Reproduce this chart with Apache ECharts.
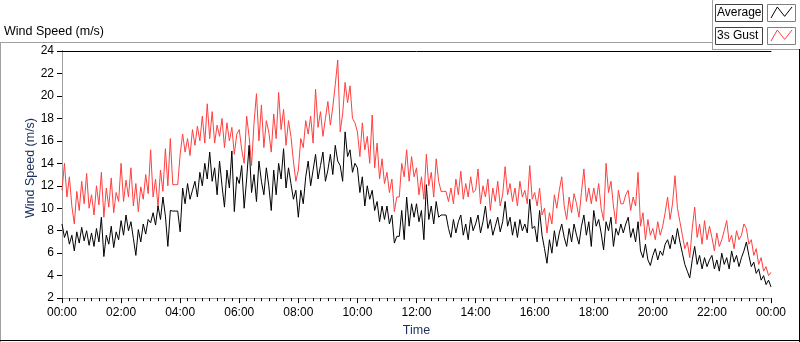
<!DOCTYPE html>
<html>
<head>
<meta charset="utf-8">
<script src="https://cdn.jsdelivr.net/npm/echarts@6/dist/echarts.min.js"></script>
<style>
html,body{margin:0;padding:0;background:#fff;}
#chart{width:800px;height:342px;}
</style>
</head>
<body>
<div id="chart"></div>
<script>
// sample step (minutes) between consecutive readings
const sampleStepMin = 5;
const tickLabels = ['00:00','02:00','04:00','06:00','08:00','10:00','12:00','14:00','16:00','18:00','20:00','22:00','00:00'];
const seriesNames = ['Average', '3s Gust'];

// Average wind speed (m/s), one row per hour, 5-minute readings
const avgSpeed = [
  8.6, 7.4, 8.0, 6.8, 7.6, 6.2, 7.9, 6.9, 8.3, 7.1, 8.0, 6.7,
  7.8, 6.6, 8.2, 7.0, 9.2, 5.7, 7.6, 6.8, 8.4, 6.5, 7.9, 7.2,
  8.9, 7.6, 9.4, 8.0, 8.8, 7.3, 5.8, 8.1, 7.0, 8.6, 7.7, 9.0,
  8.7, 9.6, 8.5, 10.2, 9.0, 11.0, 9.3, 6.6, 9.8, 9.75, 9.75, 9.75,
  7.9, 11.8, 10.4, 12.2, 10.8, 11.6, 12.4, 11.0, 13.2, 12.0, 14.0, 12.6,
  15.0, 12.4, 13.6, 11.2, 14.2, 12.0, 10.1, 13.4, 11.8, 15.1, 9.7, 12.8,
  12.2, 13.8, 10.0, 12.6, 15.6, 11.4, 13.0, 10.6, 14.2, 12.4, 11.2, 13.6,
  12.0, 9.8, 13.4, 11.2, 14.0, 12.6, 15.3, 11.8, 13.6, 12.2, 10.8, 11.6,
  9.2, 11.6, 10.4, 12.8, 14.2, 12.0, 13.4, 14.8, 12.6, 13.8, 15.0, 12.4,
  13.4, 14.8, 13.0, 15.6, 14.2, 13.8, 12.4, 16.8, 14.6, 15.2, 13.2, 14.0,
  13.6, 11.4, 12.8, 10.2, 12.0, 10.8, 11.6, 9.8, 10.6, 8.8, 10.2, 9.0,
  10.2, 8.6, 9.4, 6.9, 7.5, 7.5, 9.8, 7.2, 11.0, 8.4, 10.4, 9.2,
  10.4, 8.8, 9.8, 7.2, 12.1, 9.0, 10.2, 8.6, 10.6, 9.2, 9.4, 9.4,
  9.4, 8.2, 7.4, 9.0, 7.8, 8.8, 9.4, 7.6, 8.6, 7.2, 9.2, 8.0,
  8.6, 9.4, 7.8, 8.8, 10.2, 8.2, 9.0, 7.6, 8.4, 9.2, 7.9, 8.8,
  10.6, 8.4, 9.2, 7.6, 8.8, 7.4, 9.0, 8.0, 8.6, 7.8, 10.8, 8.2,
  8.4, 7.0, 9.8, 7.6, 6.4, 5.1, 7.2, 6.0, 8.0, 6.6, 7.8, 8.6,
  7.4, 6.6, 8.2, 7.0, 8.6, 7.6, 6.8, 8.4, 9.4, 7.6, 8.8, 6.6,
  9.8, 8.4, 9.0, 7.8, 6.3, 8.8, 8.0, 9.2, 6.6, 8.2, 7.6, 8.6,
  7.8, 8.6, 9.2, 7.4, 8.2, 7.0, 8.8, 6.2, 5.6, 6.8, 5.4, 4.9,
  5.8, 6.4, 5.4, 6.2, 5.8, 6.8, 7.2, 6.4, 7.6, 6.8, 8.2, 7.0,
  6.0, 5.0, 4.4, 3.8, 5.4, 6.6, 5.0, 5.8, 4.6, 5.6, 4.8, 5.4,
  5.8, 4.6, 5.4, 4.4, 6.0, 5.0, 5.6, 4.6, 6.2, 5.2, 5.8, 4.8,
  5.6, 6.2, 7.0, 5.8, 4.8, 5.2, 4.2, 4.6, 3.6, 4.0, 3.2, 3.6, 3.0
];

// 3 s gust wind speed (m/s), one row per hour, 5-minute readings
const gustSpeed = [
  11.6, 14.0, 11.0, 12.8, 10.2, 8.6, 11.5, 9.8, 12.4, 10.4, 13.1, 10.0,
  11.2, 9.4, 12.0, 10.3, 13.2, 9.2, 11.8, 10.1, 12.7, 9.6, 11.4, 10.6,
  14.0, 10.6, 12.5, 11.0, 13.6, 10.2, 12.2, 9.7, 11.9, 10.8, 13.0, 11.3,
  15.2, 11.0, 12.6, 10.1, 13.4, 11.5, 15.3, 12.0, 16.2, 12.1, 12.1, 12.1,
  14.8, 16.6, 15.0, 16.2, 14.7, 17.0, 15.6, 17.3, 16.0, 18.2, 15.8, 19.3,
  16.2, 18.6, 15.8, 17.4, 16.4, 18.0, 15.4, 17.6, 16.0, 17.2, 14.8, 16.6,
  17.0, 15.2, 14.0, 18.2, 16.4, 13.8, 17.6, 20.2, 16.0, 19.2, 15.4, 17.8,
  16.8, 15.0, 18.4, 16.2, 20.3, 17.0, 18.8, 15.6, 17.8, 16.4, 14.2, 12.4,
  13.4, 16.2, 15.4, 17.8, 16.6, 18.2, 15.8, 20.6, 17.2, 18.6, 16.4, 18.0,
  19.5, 17.4, 19.0, 21.0, 23.2, 16.8, 18.4, 21.2, 19.4, 20.9, 18.0, 17.6,
  16.8, 14.6, 17.6, 15.2, 16.4, 14.0, 18.3, 13.6, 15.8, 12.6, 14.4, 12.2,
  13.2, 11.4, 12.6, 9.7, 11.0, 11.0, 14.0, 12.8, 15.2, 12.4, 14.6, 12.8,
  13.6, 11.2, 12.8, 10.8, 14.8, 12.0, 13.2, 11.0, 14.4, 12.4, 11.5, 11.5,
  11.5, 10.6, 11.8, 10.4, 12.6, 11.2, 13.3, 10.8, 12.2, 11.0, 12.8, 11.4,
  11.6, 13.5, 10.4, 12.0, 11.0, 12.6, 9.8, 11.8, 10.6, 12.4, 10.2, 11.2,
  13.7, 11.2, 12.2, 10.6, 11.8, 10.2, 12.4, 11.0, 11.6, 10.4, 13.8, 10.8,
  11.4, 10.2, 11.8, 9.4, 10.0, 7.8, 9.6, 8.6, 11.2, 10.0, 11.6, 12.8,
  10.2, 9.0, 11.0, 9.6, 11.3, 10.4, 9.2, 11.4, 13.5, 10.6, 11.8, 10.4,
  11.8, 10.6, 12.2, 10.0, 8.9, 14.0, 11.4, 12.4, 10.2, 8.6, 11.6, 10.4,
  10.4, 11.2, 11.6, 9.8, 11.0, 10.2, 13.2, 8.4, 9.6, 7.2, 9.0, 7.6,
  8.2, 7.2, 8.8, 7.6, 8.4, 9.6, 11.0, 9.0, 10.4, 12.9, 10.0, 8.8,
  7.6, 6.4, 7.0, 5.6, 8.2, 10.1, 7.4, 8.6, 6.8, 8.9, 7.2, 8.4,
  7.4, 6.2, 7.8, 6.6, 7.2, 8.0, 8.9, 7.0, 7.6, 6.4, 8.0, 7.2,
  7.6, 8.6, 8.2, 6.8, 7.2, 5.8, 6.4, 5.0, 5.6, 4.4, 4.8, 4.0, 4.3
];

const pairs = arr => arr.map((v, i) => [i * sampleStepMin, v]);

const FONT = 'Liberation Sans, Arial, sans-serif';
const chart = echarts.init(document.getElementById('chart'), null, {renderer: 'canvas'});

function zig(x0, y0, w, h) {
  return [[x0, y0 + h], [x0 + w * 0.3, y0], [x0 + w * 0.65, y0 + h * 0.85], [x0 + w, y0]];
}

chart.setOption({
  animation: false,
  backgroundColor: '#ffffff',
  grid: {left: 62, top: 51, width: 709, height: 252, containLabel: false},
  xAxis: [{
    type: 'value', min: 0, max: 1440, interval: 120,
    name: 'Time', nameLocation: 'middle', nameGap: 25,
    nameTextStyle: {fontFamily: FONT, fontSize: 12.5, color: '#1c2f5c'},
    axisLine: {show: true, lineStyle: {color: '#a0a0a0', width: 1}},
    axisTick: {show: true, length: 5, lineStyle: {color: '#000'}},
    minorTick: {show: true, splitNumber: 8, length: 3, lineStyle: {color: '#000'}},
    splitLine: {show: false},
    axisLabel: {fontFamily: FONT, fontSize: 12, color: '#000', margin: 9,
      formatter: v => tickLabels[Math.round(v / 120)]}
  }, {
    type: 'value', min: 0, max: 1440, position: 'top',
    axisLine: {show: true, lineStyle: {color: '#000'}},
    axisTick: {show: false}, axisLabel: {show: false}, splitLine: {show: false}
  }],
  yAxis: [{
    type: 'value', min: 2, max: 24, interval: 2,
    axisLine: {show: true, lineStyle: {color: '#000', width: 1}},
    axisTick: {show: true, length: 5, lineStyle: {color: '#000'}},
    splitLine: {show: false},
    axisLabel: {fontFamily: FONT, fontSize: 12, color: '#000', margin: 8}
  }, {
    type: 'value', min: 2, max: 24, position: 'right',
    axisLine: {show: true, lineStyle: {color: '#a0a0a0'}},
    axisTick: {show: false}, axisLabel: {show: false}, splitLine: {show: false}
  }],
  series: [{
    name: seriesNames[1], type: 'line', data: pairs(gustSpeed),
    showSymbol: false, symbol: 'none',
    lineStyle: {color: '#ff3f3f', width: 1}, itemStyle: {color: '#ff3f3f'}
  }, {
    name: seriesNames[0], type: 'line', data: pairs(avgSpeed),
    showSymbol: false, symbol: 'none',
    lineStyle: {color: '#000000', width: 1}, itemStyle: {color: '#000'}
  }],
  graphic: [
    // panel frame
    {type: 'line', shape: {x1: 0, y1: 42.5, x2: 712, y2: 42.5}, style: {stroke: '#a0a0a0', lineWidth: 1}},
    {type: 'line', shape: {x1: 712.5, y1: 0, x2: 712.5, y2: 49}, style: {stroke: '#a0a0a0', lineWidth: 1}},
    {type: 'line', shape: {x1: 712, y1: 49.5, x2: 800, y2: 49.5}, style: {stroke: '#a0a0a0', lineWidth: 1}},
    {type: 'line', shape: {x1: 0.5, y1: 42, x2: 0.5, y2: 342}, style: {stroke: '#a0a0a0', lineWidth: 1}},
    {type: 'line', shape: {x1: 0, y1: 340.5, x2: 800, y2: 340.5}, style: {stroke: '#000', lineWidth: 1}},
    {type: 'line', shape: {x1: 799.5, y1: 49, x2: 799.5, y2: 342}, style: {stroke: '#000', lineWidth: 1}},
    // chart title
    {type: 'text', left: 4, top: 25, style: {text: 'Wind Speed (m/s)', font: '12.5px ' + FONT, fill: '#000'}},
    // y axis name
    {type: 'text', x: 31, y: 168, rotation: Math.PI / 2,
      style: {text: 'Wind Speed (m/s)', font: '12.5px ' + FONT, fill: '#1c2f5c', textAlign: 'center', textVerticalAlign: 'middle'}},
    // legend
    {type: 'rect', shape: {x: 715.5, y: 4.5, width: 47, height: 17}, style: {fill: '#fdfdfd', stroke: '#404040', lineWidth: 1}},
    {type: 'text', x: 717, y: 13, style: {text: seriesNames[0], font: '12px ' + FONT, fill: '#000', textVerticalAlign: 'middle'}},
    {type: 'rect', shape: {x: 767.5, y: 4.5, width: 28, height: 17}, style: {fill: '#fff', stroke: '#808080', lineWidth: 1}},
    {type: 'polyline', shape: {points: zig(771, 7, 21, 11)}, style: {stroke: '#000', fill: null, lineWidth: 1}},
    {type: 'rect', shape: {x: 715.5, y: 27.5, width: 47, height: 17}, style: {fill: '#fdfdfd', stroke: '#404040', lineWidth: 1}},
    {type: 'text', x: 717, y: 36, style: {text: seriesNames[1], font: '12px ' + FONT, fill: '#000', textVerticalAlign: 'middle'}},
    {type: 'rect', shape: {x: 767.5, y: 27.5, width: 28, height: 17}, style: {fill: '#fff', stroke: '#808080', lineWidth: 1}},
    {type: 'polyline', shape: {points: zig(771, 30, 21, 11)}, style: {stroke: '#ff3f3f', fill: null, lineWidth: 1}}
  ]
});
</script>
</body>
</html>
